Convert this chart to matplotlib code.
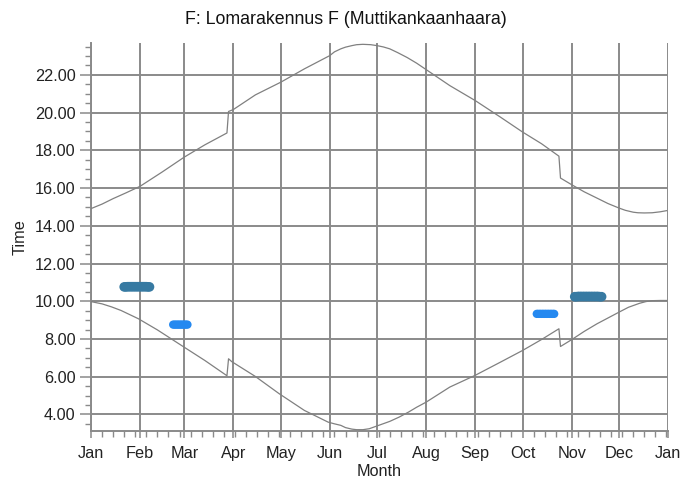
import matplotlib
matplotlib.use("Agg")
import matplotlib.pyplot as plt
from matplotlib.ticker import MultipleLocator, FixedLocator, FormatStrFormatter

plt.rcParams['font.family'] = ['Liberation Sans', 'DejaVu Sans']

# ---- data (day of year, 0 = 1 Jan; time in hours) ----
month_starts = [0, 31, 59, 90, 120, 151, 181, 212, 243, 273, 304, 334, 365]
month_labels = ['Jan', 'Feb', 'Mar', 'Apr', 'May', 'Jun', 'Jul', 'Aug',
                'Sep', 'Oct', 'Nov', 'Dec', 'Jan']

sunset_days = [0, 7, 14, 22, 31, 45, 59, 72, 86, 87, 90, 104, 120, 135, 151,
               154, 158, 161, 165, 168, 172, 177, 181, 185, 189, 194, 200, 206,
               212, 227, 243, 259, 273, 285, 296, 297, 304, 312, 320, 327, 334,
               338, 343, 346, 350, 355, 360, 364]
sunset_time = [14.91, 15.15, 15.44, 15.74, 16.09, 16.85, 17.64, 18.29, 18.92,
               20.06, 20.16, 20.94, 21.61, 22.32, 23.02, 23.22, 23.38, 23.47,
               23.55, 23.60, 23.62, 23.60, 23.55, 23.48, 23.38, 23.18, 22.92,
               22.62, 22.28, 21.43, 20.64, 19.76, 18.97, 18.35, 17.69, 16.53,
               16.18, 15.80, 15.47, 15.18, 14.94, 14.82, 14.72, 14.69, 14.68,
               14.69, 14.74, 14.80]

sunrise_days = [0, 7, 13, 19, 24, 30, 42, 59, 72, 86, 87, 89, 104, 119, 135,
                150, 154, 158, 161, 165, 168, 172, 176, 179, 183, 189, 195,
                201, 206, 212, 227, 243, 259, 273, 285, 296, 297, 304, 312,
                320, 334, 340, 347, 351, 355, 360, 364]
sunrise_time = [9.98, 9.86, 9.70, 9.51, 9.31, 9.07, 8.48, 7.56, 6.86, 6.05,
                6.95, 6.80, 6.01, 5.10, 4.21, 3.59, 3.50, 3.42, 3.30, 3.22,
                3.19, 3.19, 3.24, 3.33, 3.45, 3.63, 3.86, 4.13, 4.38, 4.65,
                5.45, 6.07, 6.77, 7.39, 7.97, 8.54, 7.60, 7.96, 8.40, 8.80,
                9.42, 9.68, 9.89, 9.98, 10.03, 10.04, 10.04]

dark1_days = [21, 22, 23, 24, 25, 26, 27, 28, 29, 30, 31, 32, 33, 34, 35, 36, 37]
dark1_time = [10.76, 10.76, 10.77, 10.77, 10.77, 10.77, 10.77, 10.77, 10.77,
              10.77, 10.77, 10.77, 10.77, 10.77, 10.77, 10.76, 10.76]

bright1_days = [52, 53, 54, 55, 56, 57, 58, 59, 60, 61]
bright1_time = [8.76, 8.76, 8.76, 8.76, 8.76, 8.76, 8.76, 8.76, 8.76, 8.76]

bright2_days = [282, 283, 284, 285, 286, 287, 288, 289, 290, 291, 292, 293]
bright2_time = [9.33, 9.33, 9.33, 9.33, 9.33, 9.33, 9.33, 9.33, 9.33, 9.33, 9.33, 9.33]

dark2_days = [306, 307, 308, 309, 310, 311, 312, 313, 314, 315, 316, 317, 318,
              319, 320, 321, 322, 323]
dark2_time = [10.24, 10.24, 10.25, 10.25, 10.25, 10.25, 10.25, 10.25, 10.25,
              10.25, 10.25, 10.25, 10.25, 10.25, 10.25, 10.25, 10.24, 10.24]

# ---- figure ----
fig = plt.figure(figsize=(6.96, 4.80), dpi=100)
ax = fig.add_axes([91/696, 1 - 431/480, 577/696, 388/480])

grid_c = '#8a8a8a'
ax.set_xlim(0, 365)
ax.set_ylim(3.12, 23.69)

ax.plot(sunset_days, sunset_time, color='#808080', lw=0.9, zorder=3)
ax.plot(sunrise_days, sunrise_time, color='#808080', lw=0.9, zorder=3)

ms = 48
ax.scatter(dark1_days, dark1_time, s=ms, color='#377aa2', edgecolors='none', zorder=4)
ax.scatter(dark2_days, dark2_time, s=ms, color='#377aa2', edgecolors='none', zorder=4)
ax.scatter(bright1_days, bright1_time, s=ms*0.75, color='#2589f0', edgecolors='none', zorder=4)
ax.scatter(bright2_days, bright2_time, s=ms*0.75, color='#2589f0', edgecolors='none', zorder=4)

ax.xaxis.set_major_locator(FixedLocator(month_starts))
ax.set_xticklabels(month_labels)
ax.xaxis.set_minor_locator(MultipleLocator(7))
ax.yaxis.set_major_locator(MultipleLocator(2))
ax.yaxis.set_minor_locator(MultipleLocator(0.5))
ax.yaxis.set_major_formatter(FormatStrFormatter('%.2f'))

ax.grid(True, which='major', color=grid_c, lw=1.4, zorder=1)
ax.set_axisbelow(True)

for s in ['top', 'right']:
    ax.spines[s].set_visible(False)
for s in ['left', 'bottom']:
    ax.spines[s].set_color(grid_c)
    ax.spines[s].set_linewidth(1.4)

fs = 11.7
ax.tick_params(axis='y', which='major', length=8, width=1.1, color=grid_c,
               labelsize=fs, pad=3, labelcolor='#222222')
ax.tick_params(axis='y', which='minor', length=4, width=1.0, color=grid_c)
ax.tick_params(axis='x', which='major', length=5, width=1.1, color=grid_c,
               labelsize=fs, pad=6, labelcolor='#222222')
ax.tick_params(axis='x', which='minor', length=4, width=1.0, color=grid_c)

ax.set_xlabel('Month', fontsize=fs, color='#222222', labelpad=2)
ax.set_ylabel('Time', fontsize=fs, color='#222222', labelpad=5)
fig.text(0.497, 1 - 19/480, 'F: Lomarakennus F (Muttikankaanhaara)',
         ha='center', va='center', fontsize=12.8, color='#111111')

fig.savefig('out.png', dpi=100)
